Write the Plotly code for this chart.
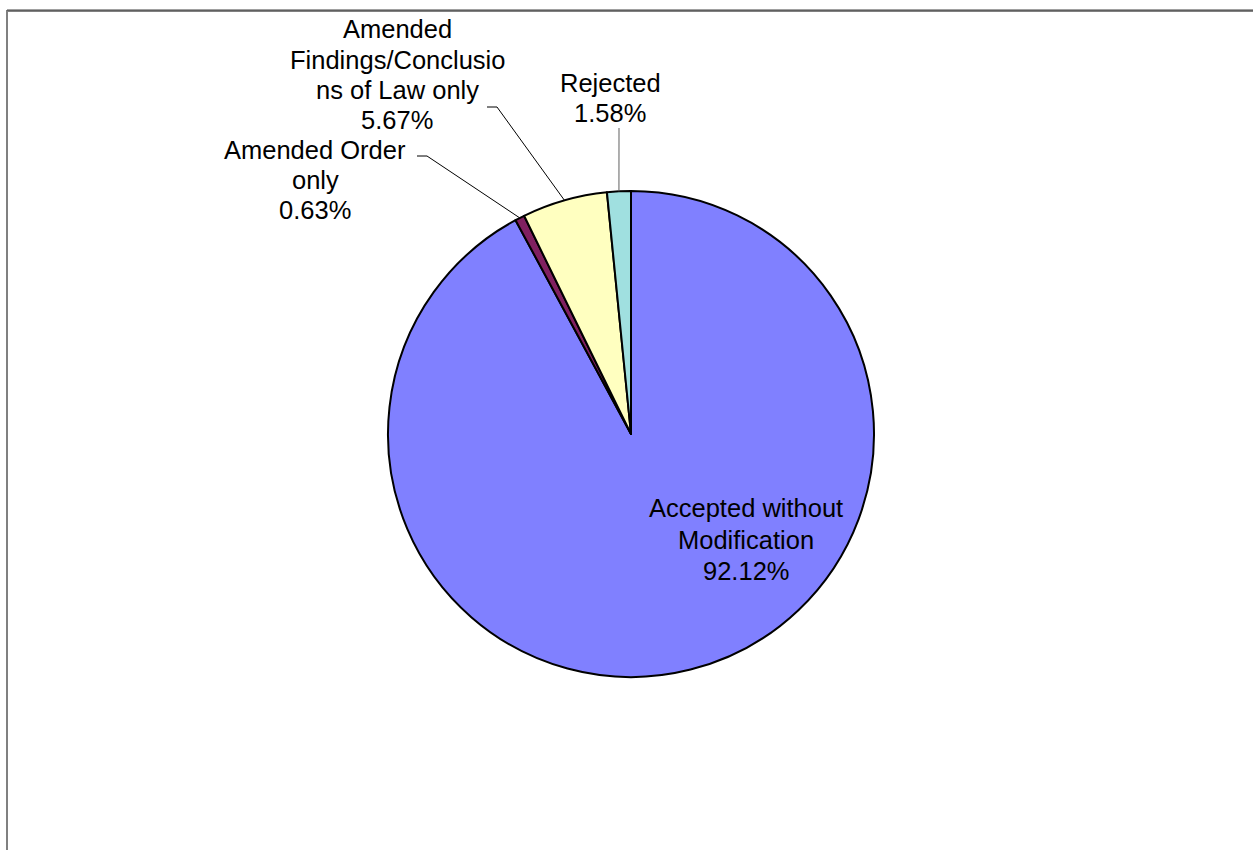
import math
import plotly.graph_objects as go

# ---- data ----
categories = ["Accepted without Modification", "Amended Order only",
              "Amended Findings/Conclusions of Law only", "Rejected"]
label_lines = [["Accepted without", "Modification"],
               ["Amended Order", "only"],
               ["Amended", "Findings/Conclusio", "ns of Law only"],
               ["Rejected"]]
values = [92.12, 0.63, 5.67, 1.58]
colors = ["#8080FF", "#802060", "#FFFFC0", "#A0E0E0"]

W, H = 1253, 850
CX, CY, R = 631, 434, 243  # pie geometry in pixels


def px(x):
    return x / W


def py(y):
    return 1 - y / H


fig = go.Figure(go.Pie(
    labels=categories, values=values, sort=False, direction="clockwise",
    rotation=0, marker=dict(colors=colors, line=dict(color="black", width=2)),
    textinfo="none", hoverinfo="label+percent", showlegend=False,
    domain=dict(x=[px(CX - R), px(CX + R)], y=[py(CY + R), py(CY - R)]),
))

# mid-angle of each slice (clockwise from 12 o'clock)
total = sum(values)
mids = []
cum = 0
for v in values:
    mids.append((cum + v / 2) / total * 2 * math.pi)
    cum += v


def edge(i, rf=1.0):
    a = mids[i]
    return CX + R * rf * math.sin(a), CY - R * rf * math.cos(a)


FONT = dict(family="Liberation Sans, Arial, sans-serif", size=25.5, color="black")
annotations = []
shapes = []

# label layout: (centre x, first-line centre y, line spacing) in pixels
label_pos = {
    0: (746, 508, 31.5),
    1: (315, 150, 30),
    2: (397, 29, 30.5),
    3: (610, 83, 30),
}
elbows = {
    1: [(417, 156), (427, 156)],
    2: [(487, 107), (497, 107)],
    3: [(619, 128)],
}
lead_color = {1: "black", 2: "black", 3: "#606060"}

for i, lines in enumerate(label_lines):
    all_lines = lines + [f"{values[i]:.2f}%"]
    x, y0, lh = label_pos[i]
    for k, t in enumerate(all_lines):
        annotations.append(dict(x=px(x), y=py(y0 + k * lh), xref="paper", yref="paper",
                                text=t, showarrow=False, font=FONT,
                                align="center", xanchor="center", yanchor="middle"))
    if i in elbows:
        pts = elbows[i] + [edge(i)]
        for (xa, ya), (xb, yb) in zip(pts[:-1], pts[1:]):
            shapes.append(dict(type="line", xref="paper", yref="paper",
                               x0=px(xa), y0=py(ya), x1=px(xb), y1=py(yb),
                               line=dict(color=lead_color[i], width=1)))

# chart frame (extends past right/bottom of the view)
shapes.append(dict(type="rect", xref="paper", yref="paper",
                   x0=px(7), y0=py(870), x1=px(1270), y1=py(11),
                   line=dict(color="#808080", width=2)))
shapes.append(dict(type="line", xref="paper", yref="paper",
                   x0=px(7), y0=py(10), x1=px(1270), y1=py(10),
                   line=dict(color="#404040", width=1)))

fig.update_layout(width=W, height=H, margin=dict(l=0, r=0, t=0, b=0),
                  paper_bgcolor="white", plot_bgcolor="white",
                  annotations=annotations, shapes=shapes)
fig.write_html("out.html")
